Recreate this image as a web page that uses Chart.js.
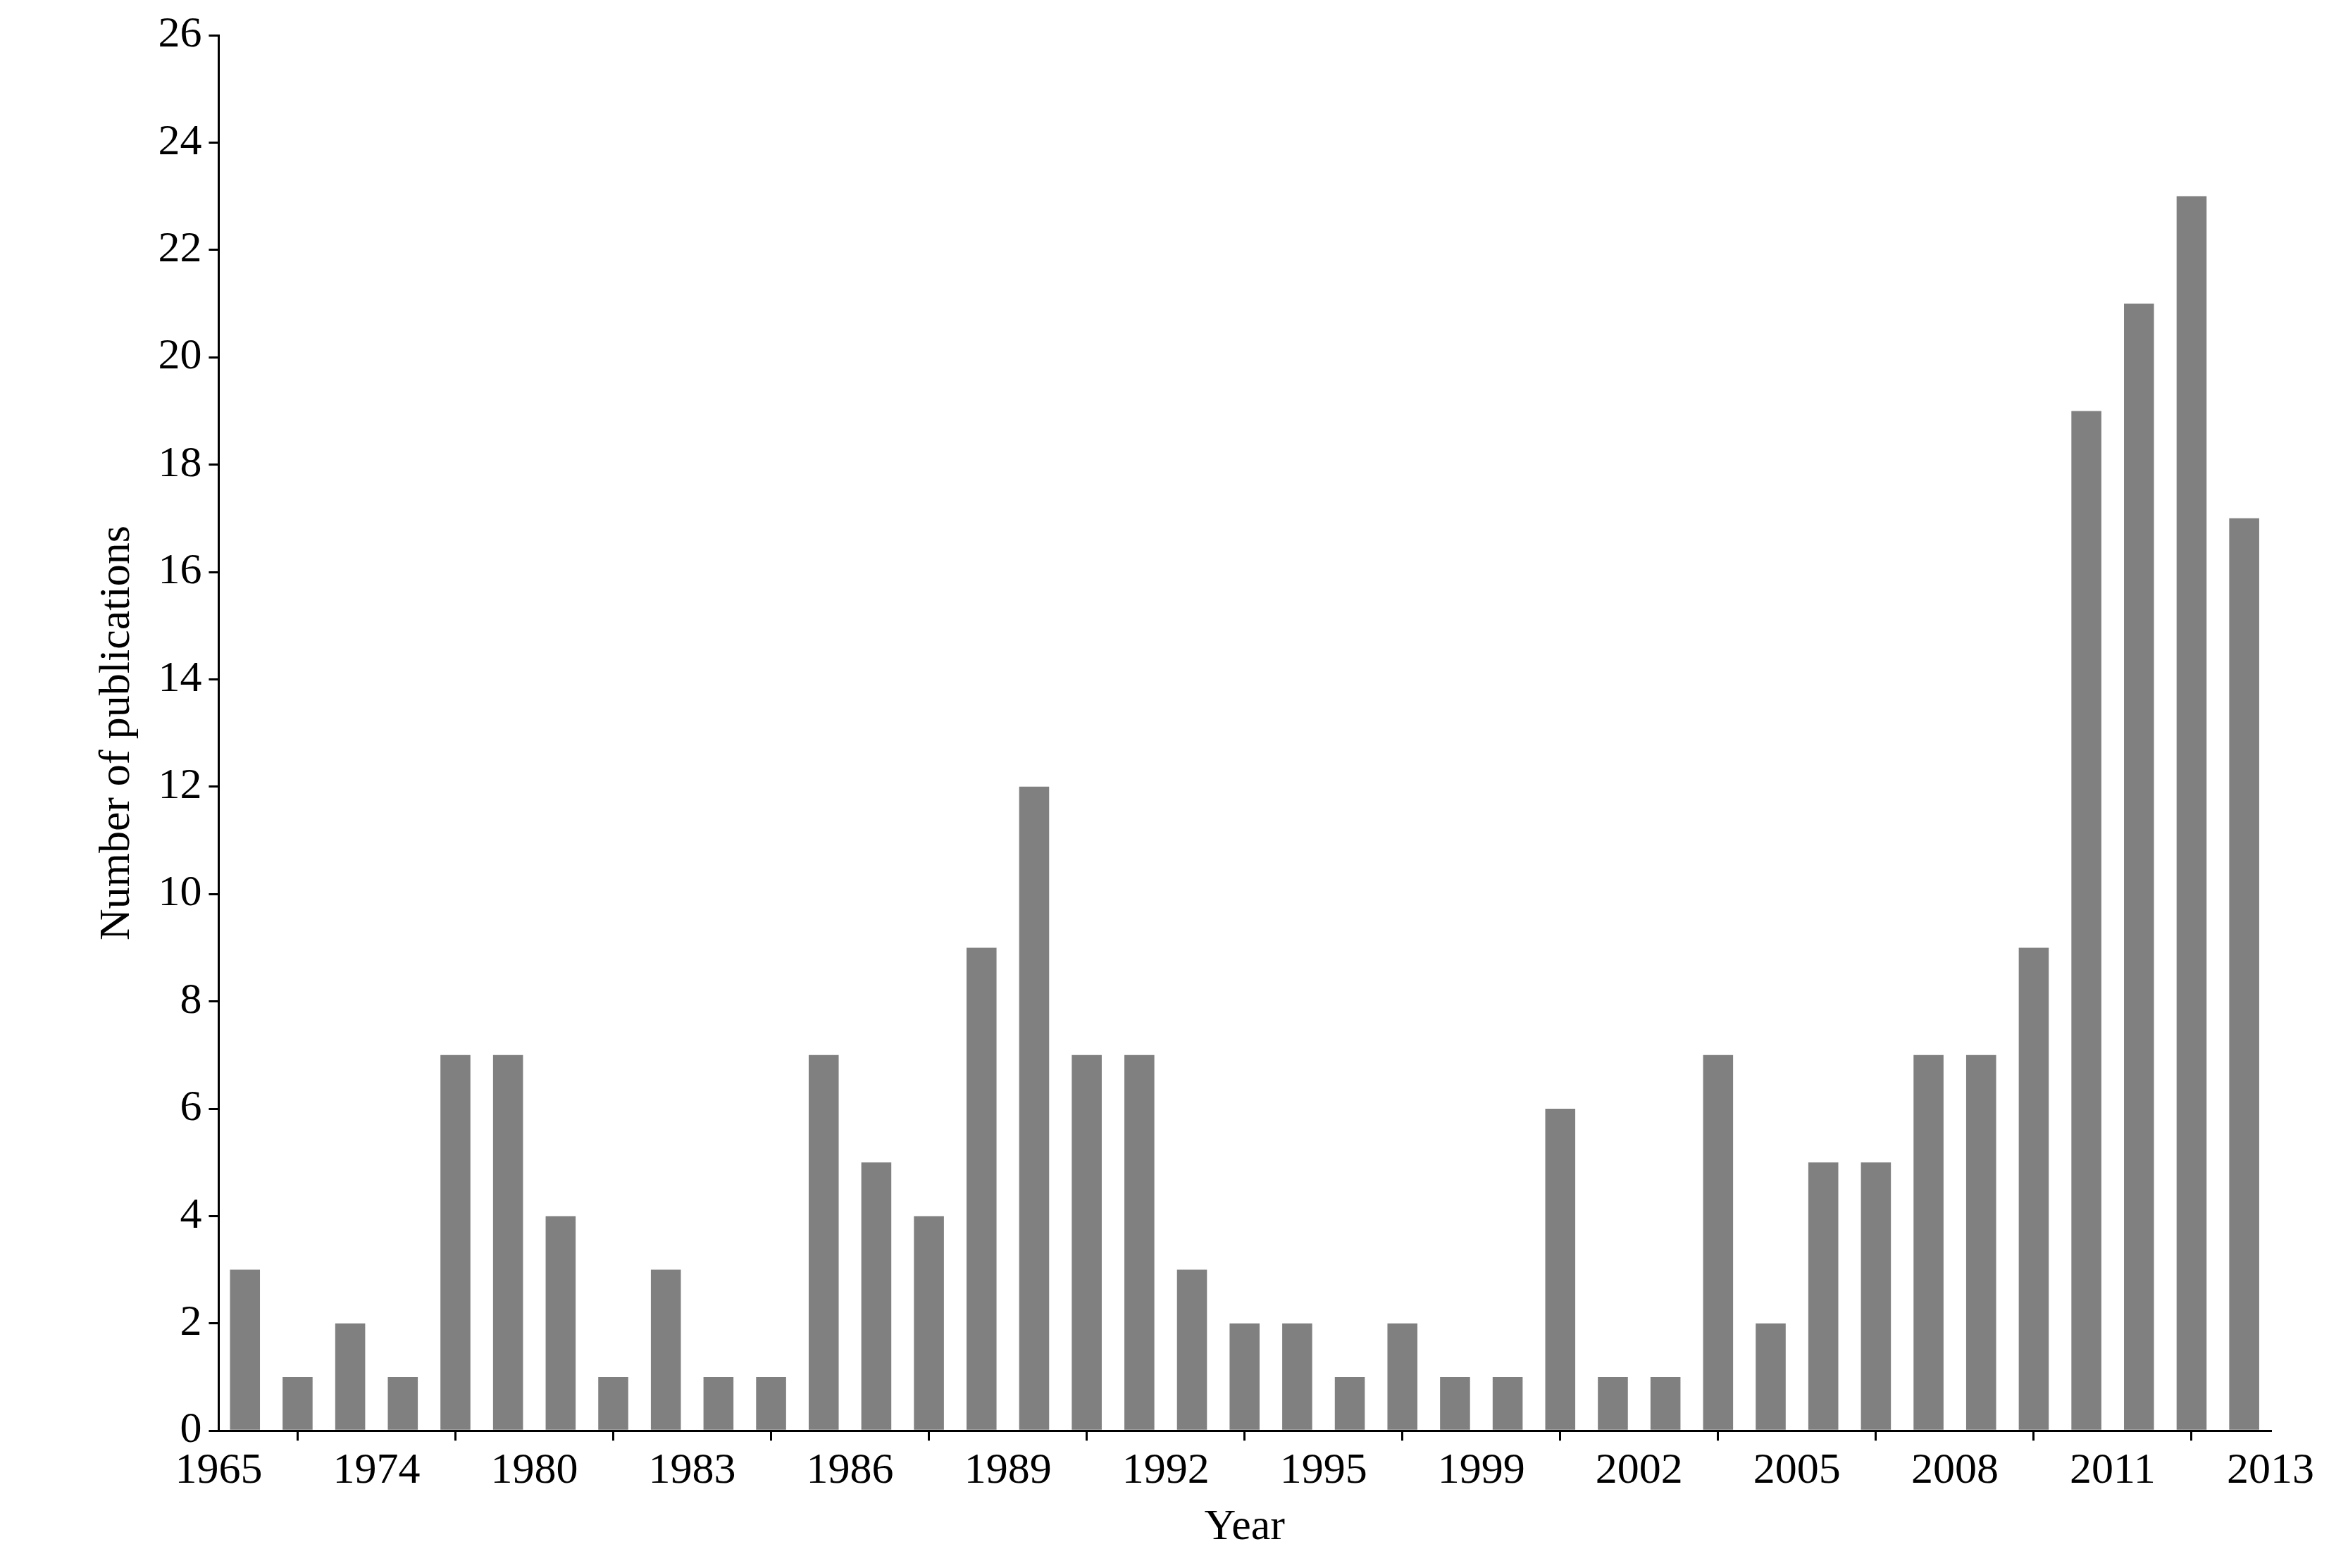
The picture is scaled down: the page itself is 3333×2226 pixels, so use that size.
<!DOCTYPE html>
<html>
<head>
<script src="https://cdn.jsdelivr.net/npm/chart.js@4"></script>
<style>body{margin:0;background:#fff}</style>
</head>
<body>
<canvas id="c" width="3333" height="2226"></canvas>
<script>
// one bar per publication year slot, tick labels only every third boundary
const counts = [3, 1, 2, 1, 7, 7, 4, 1, 3, 1, 1, 7, 5, 4, 9, 12, 7, 7, 3, 2,
                2, 1, 2, 1, 1, 6, 1, 1, 7, 2, 5, 5, 7, 7, 9, 19, 21, 23, 17];
const categories = counts.map((v, i) => 'bar ' + (i + 1));
const tickLabels = ['1965', '1974', '1980', '1983', '1986', '1989', '1992',
                    '1995', '1999', '2002', '2005', '2008', '2011', '2013'];

const font = { family: 'Liberation Serif', size: 62 };

new Chart(document.getElementById('c').getContext('2d'), {
    type: 'bar',
    data: {
        labels: categories,
        datasets: [{
            data: counts,
            backgroundColor: '#808080',
            categoryPercentage: 1,
            barPercentage: 0.57
        }]
    },
    options: {
        responsive: false,
        devicePixelRatio: 1,
        animation: false,
        layout: { padding: { top: 50, right: 110, left: 120, bottom: 20 } },
        plugins: { legend: { display: false }, tooltip: { enabled: false } },
        scales: {
            x: { display: false, offset: true },
            x2: {
                type: 'linear',
                position: 'bottom',
                offset: false,
                min: 0,
                max: counts.length,
                grid: { drawOnChartArea: false, color: '#000', tickLength: 14, lineWidth: 3 },
                border: { color: '#000', width: 3 },
                ticks: {
                    stepSize: 3,
                    color: '#000',
                    font: font,
                    maxRotation: 0,
                    autoSkip: false,
                    padding: 6,
                    callback: v => tickLabels[v / 3]
                },
                title: { display: true, text: 'Year', color: '#000', font: font, padding: { top: 0, bottom: 0 } }
            },
            y: {
                min: 0,
                max: 26,
                grid: { drawOnChartArea: false, color: '#000', tickLength: 14, lineWidth: 3 },
                border: { color: '#000', width: 3 },
                ticks: { stepSize: 2, color: '#000', font: font, padding: 10 },
                title: { display: true, text: 'Number of publications', color: '#000', font: font, padding: 10 }
            }
        }
    }
});
</script>
</body>
</html>
